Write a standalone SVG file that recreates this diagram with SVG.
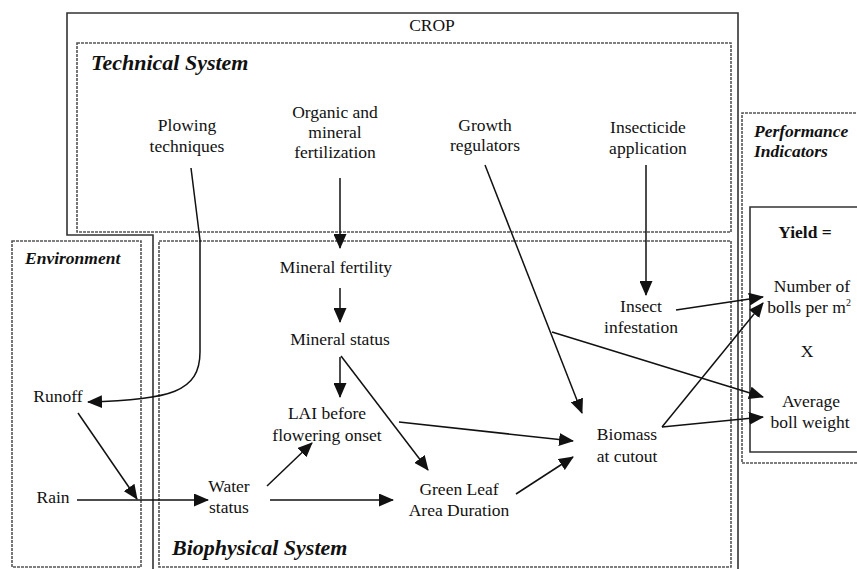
<svg xmlns="http://www.w3.org/2000/svg" width="857" height="569" viewBox="0 0 857 569">
<defs>
<style>
.t{font-family:"Liberation Serif","Times New Roman",serif;font-size:17.5px;fill:#111;text-anchor:middle}
.h{font-family:"Liberation Serif","Times New Roman",serif;font-weight:bold;font-style:italic;fill:#111}
.dash{fill:none;stroke:#555;stroke-width:1.6;stroke-dasharray:3,1}
.solid{fill:none;stroke:#333;stroke-width:1.6}
.c{fill:none;stroke:#111;stroke-width:1.5;marker-end:url(#ah)}
</style>
<marker id="ah" markerUnits="userSpaceOnUse" markerWidth="15" markerHeight="13" refX="14" refY="6.5" orient="auto">
<path d="M0,0 L15,6.5 L0,13 Z" fill="#111"/>
</marker>
</defs>
<rect width="857" height="569" fill="#fff"/>
<g id="crop">
<path class="solid" d="M153,569 V235 H67 V13 H738 V569"/>
<text class="t" x="432" y="31">CROP</text>
</g>
<g id="technical-system">
<rect class="dash" x="77" y="43" width="654" height="189"/>
<text class="h" x="91" y="70" font-size="22">Technical System</text>
</g>
<g id="environment">
<rect class="dash" x="12" y="241" width="129" height="326"/>
<text class="h" x="25" y="264" font-size="17.5">Environment</text>
</g>
<g id="biophysical-system">
<rect class="dash" x="159" y="241" width="572" height="326"/>
<text class="h" x="172" y="555" font-size="22">Biophysical System</text>
</g>
<g id="performance-indicators">
<path class="dash" d="M860,113 H742 V463 H860"/>
<text class="h" x="754" y="137" font-size="17.5">Performance</text>
<text class="h" x="754" y="157" font-size="17.5">Indicators</text>
</g>
<g id="yield">
<path class="solid" d="M860,207 H750 V452 H860"/>
<text class="t" x="805" y="238" font-weight="bold" font-size="18.5">Yield =</text>
</g>
<g id="plowing"><text class="t" x="187" y="131">Plowing</text><text class="t" x="187" y="152">techniques</text></g>
<g id="fertilization"><text class="t" x="335" y="118">Organic and</text><text class="t" x="335" y="138">mineral</text><text class="t" x="335" y="158">fertilization</text></g>
<g id="growth-regulators"><text class="t" x="485" y="131">Growth</text><text class="t" x="485" y="151">regulators</text></g>
<g id="insecticide"><text class="t" x="648" y="133">Insecticide</text><text class="t" x="648" y="154">application</text></g>
<g id="mineral-fertility"><text class="t" x="336" y="273">Mineral fertility</text></g>
<g id="mineral-status"><text class="t" x="340" y="345">Mineral status</text></g>
<g id="lai"><text class="t" x="327" y="419">LAI before</text><text class="t" x="327" y="441">flowering onset</text></g>
<g id="runoff"><text class="t" x="58" y="402">Runoff</text></g>
<g id="rain"><text class="t" x="53" y="503">Rain</text></g>
<g id="water-status"><text class="t" x="229" y="492">Water</text><text class="t" x="229" y="513">status</text></g>
<g id="gla-duration"><text class="t" x="459" y="495">Green Leaf</text><text class="t" x="459" y="516">Area Duration</text></g>
<g id="biomass"><text class="t" x="627" y="440">Biomass</text><text class="t" x="627" y="462">at cutout</text></g>
<g id="insect-infestation"><text class="t" x="641" y="312">Insect</text><text class="t" x="641" y="333">infestation</text></g>
<g id="bolls-number"><text class="t" x="812" y="292">Number of</text><text class="t" x="809" y="313">bolls per m<tspan font-size="10" dy="-7">2</tspan></text></g>
<g id="times"><text class="t" x="807" y="357">X</text></g>
<g id="boll-weight"><text class="t" x="811" y="407">Average</text><text class="t" x="810" y="428">boll weight</text></g>
<g id="connectors">
<path class="c" d="M191,168 L200,240 L200,352 C200,392 170,400 88,402"/>
<path class="c" d="M340,178 L340,248"/>
<path class="c" d="M340,288 L340,322"/>
<path class="c" d="M340,357 L340,397"/>
<path class="c" d="M341,356 L428,470"/>
<path class="c" d="M399,422 L573,441"/>
<path class="c" d="M267,486 L312,443"/>
<path class="c" d="M270,500 L393,500"/>
<path class="c" d="M77,500 L208,500"/>
<path class="c" d="M78,413 L137,499"/>
<path class="c" d="M516,494 L573,457"/>
<path class="c" d="M485,165 L582,413"/>
<path class="c" d="M552,332 L763,397"/>
<path class="c" d="M646,165 L646,295"/>
<path class="c" d="M676,310 L763,297"/>
<path class="c" d="M662,427 L763,303"/>
<path class="c" d="M662,427 L763,417"/>
</g>
</svg>
